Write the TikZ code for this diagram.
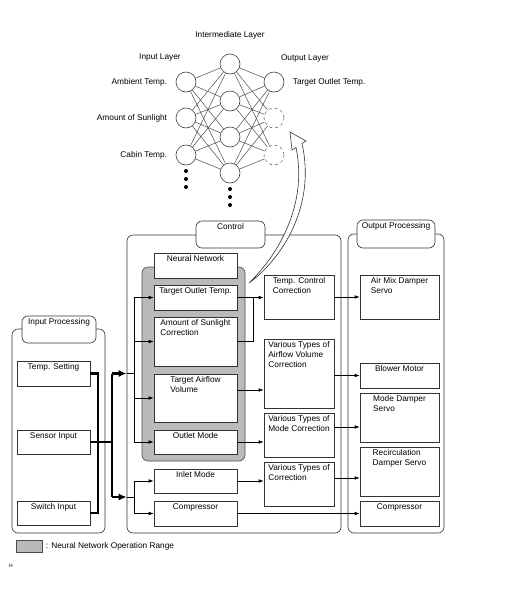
\documentclass[tikz,border=0pt]{standalone}
\usepackage{fontspec}
\setmainfont{Liberation Sans}
\usetikzlibrary{arrows.meta,positioning,calc}
\tikzstyle{neuron}=[circle,draw=black!75,fill=white,minimum size=20pt,inner sep=0pt]
\tikzstyle{dneuron}=[circle,dashed,draw=black!55,fill=white,minimum size=20pt,inner sep=0pt]
\tikzstyle{synapse}=[draw=black!70,line width=0.5pt]
\tikzstyle{block}=[rectangle,draw=black!80,fill=white,inner sep=0pt]
\tikzstyle{frame}=[rectangle,rounded corners=6pt,draw=black!80,inner sep=0pt]
\tikzstyle{tab}=[rectangle,rounded corners=6pt,draw=black!80,fill=white,inner sep=0pt]
\tikzstyle{nnrange}=[rectangle,rounded corners=6pt,draw=black!70,fill=black!27,inner sep=0pt]
\tikzstyle{intext}=[anchor=north,align=left,inner sep=2.6pt]
\tikzstyle{lbl}=[label distance=5pt]
\tikzstyle{bus}=[line width=2.6pt,line join=miter]
\tikzstyle{busarrow}=[line width=2.6pt,-{Latex[length=8pt,width=7pt]}]

\begin{document}
\begin{tikzpicture}[x=1pt,y=-1pt,>={Latex[length=5pt,width=3.6pt]},
    font=\fontsize{8.3}{10}\selectfont,line width=0.6pt]
            \useasboundingbox (0,0) rectangle (505,600);

            % NEURAL NETWORK PART

            \node[neuron,label={[lbl]left:Ambient Temp.}] (in1) at (186,82) {};
            \node[neuron,label={[lbl]left:Amount of Sunlight}] (in2) at (186,118) {};
            \node[neuron,label={[lbl]left:Cabin Temp.}] (in3) at (186,155) {};
            \foreach \j/\y in {1/64,2/101,3/137,4/173}
                \node[neuron] (hid\j) at (230,\y) {};
            \node[neuron,label={[lbl]right:Target Outlet Temp.}] (out1) at (274,82) {};
            \node[dneuron] (out2) at (274,118) {};
            \node[dneuron] (out3) at (274,155) {};

            \foreach \i in {1,2,3}
                \foreach \j in {1,...,4}
                {
                    \draw[synapse] (in\i) -- (hid\j);
                    \draw[synapse] (hid\j) -- (out\i);
                }

            \node (tin) at (160,58) {Input Layer};
            \node (thid) at (230,35) {Intermediate Layer};
            \node (tout) at (305,58) {Output Layer};

            \foreach \y in {171,179,187} \fill (186,\y) circle (2pt);
            \foreach \y in {189,197,205} \fill (230,\y) circle (2pt);

            % INPUT PROCESSING PART

            \node[frame,minimum width=93,minimum height=204] (inproc) at (58.5,431) {};
            \node[tab,minimum width=74,minimum height=27,label={[intext]north:Input Processing}] (tinproc) at (59,329.5) {};
            \node[block,minimum width=73,minimum height=25,label={[intext]north:Temp. Setting}] (ts) at (53.5,373.5) {};
            \node[block,minimum width=73,minimum height=24,label={[intext]north:Sensor Input}] (si) at (53.5,442) {};
            \node[block,minimum width=73,minimum height=24,label={[intext]north:Switch Input}] (sw) at (53.5,513) {};

            % CONTROL PART

            \node[frame,minimum width=214,minimum height=298] (ctrl) at (234,384) {};
            \node[tab,minimum width=69,minimum height=27,label={[intext]north:Control}] (tctrl) at (230.5,234.5) {};
            \node[nnrange,minimum width=103,minimum height=194] (range) at (193.5,364) {};
            \node[block,minimum width=83,minimum height=25,label={[intext]north:Neural Network}] (nn) at (195.5,265.5) {};
            \node[block,minimum width=83,minimum height=25,label={[intext]north:Target Outlet Temp.}] (tot) at (195.5,297.5) {};
            \node[block,minimum width=83,minimum height=49,label={[intext]north:Amount of Sunlight\\Correction}] (sun) at (195.5,341.5) {};
            \node[block,minimum width=83,minimum height=48,label={[intext]north:Target Airflow\\Volume}] (tav) at (195.5,398) {};
            \node[block,minimum width=83,minimum height=24,label={[intext]north:Outlet Mode}] (om) at (195.5,442) {};
            \node[block,minimum width=83,minimum height=24,label={[intext]north:Inlet Mode}] (im) at (195.5,481) {};
            \node[block,minimum width=83,minimum height=25,label={[intext]north:Compressor}] (comp) at (195.5,513.5) {};

            \node[block,minimum width=70,minimum height=44,label={[intext]north:Temp. Control\\Correction}] (tcc) at (299,297) {};
            \node[block,minimum width=70,minimum height=69,label={[intext]north:Various Types of\\Airflow Volume\\Correction}] (avc) at (299,373.5) {};
            \node[block,minimum width=70,minimum height=44,label={[intext]north:Various Types of\\Mode Correction}] (mc) at (299,435) {};
            \node[block,minimum width=70,minimum height=44,label={[intext]north:Various Types of\\Correction}] (vc) at (299,484) {};

            % OUTPUT PROCESSING PART

            \node[frame,minimum width=96,minimum height=299] (outproc) at (396,383.5) {};
            \node[tab,minimum width=78,minimum height=28,label={[intext]north:Output Processing}] (toutproc) at (396,234) {};
            \node[block,minimum width=79,minimum height=44,label={[intext]north:Air Mix Damper\\Servo}] (ams) at (399.5,297) {};
            \node[block,minimum width=79,minimum height=25,label={[intext]north:Blower Motor}] (bm) at (399.5,375.5) {};
            \node[block,minimum width=79,minimum height=49,label={[intext]north:Mode Damper\\Servo}] (mds) at (399.5,417.5) {};
            \node[block,minimum width=79,minimum height=49,label={[intext]north:Recirculation\\Damper Servo}] (rds) at (399.5,471.5) {};
            \node[block,minimum width=79,minimum height=25,label={[intext]north:Compressor}] (oc) at (399.5,513.5) {};

            % Input connections

            \coordinate (mx) at (98,442);
            \coordinate (sx) at (112,442);
            \coordinate (up) at (112,373.5);
            \coordinate (dn) at (112,497);
            \coordinate (b1) at (134,297.5);
            \coordinate (b2) at (134,442);

            \draw[bus] (ts.east) -| (mx) |- (sw.east);
            \draw[bus] (si.east) -- (sx);
            \draw[bus] (up) -- (dn);
            \draw[busarrow] (up) -- (up -| ctrl.west);
            \draw[busarrow] (dn) -- (dn -| ctrl.west);
            \draw (up -| ctrl.west) -- (up -| b1);
            \draw (dn -| ctrl.west) -- (dn -| b1);

            \draw (b1) -- (b2);
            \draw (im.west -| b1) -- (comp.west -| b1);
            \foreach \n in {tot,sun,tav,om,im,comp}
                \draw[->] (\n.west -| b1) -- (\n.west);

            % Control connections

            \coordinate (jn) at (253,297.5);
            \draw[->] (tot.east) -- (tot.east -| tcc.west);
            \draw (sun.east) -| (jn);
            \draw[->] ($(tav.east)+(0,-8)$) coordinate (t1) -- (t1 -| avc.west);
            \draw[->] (om.east) -- (om.east -| mc.west);
            \draw[->] (im.east) -- (im.east -| vc.west);
            \draw[->] (comp.east) -- (oc.west);

            % Output connections

            \draw[->] (tcc.east) -- (ams.west);
            \draw[->] (bm.west -| avc.east) -- (bm.west);
            \draw[->] ($(mc.east)+(0,-8)$) coordinate (t2) -- (t2 -| mds.west);
            \draw[->] ($(vc.east)+(0,-6)$) coordinate (t3) -- (t3 -| rds.west);

            % Hollow arrow to the network

            \coordinate (tail) at (249,283);
            \coordinate (tip) at (290,132);
            \draw[fill=white,draw=black!80] (tail) .. controls (283,258) and (316,205) .. (302,143.6)
                -- (306,141) -- (tip) -- (292,150) -- (296,147.4)
                .. controls (308,205) and (278,255) .. (tail) -- cycle;

            % Legend

            \node[rectangle,draw=black!70,fill=black!27,minimum width=26,minimum height=12,inner sep=0pt] (key) at (29,546) {};
            \node[right=0pt of key] (tkey) {: Neural Network Operation Range};
            \node[font=\fontsize{5}{6}\selectfont] (code) at (11,566) {H};

\end{tikzpicture}
\end{document}
